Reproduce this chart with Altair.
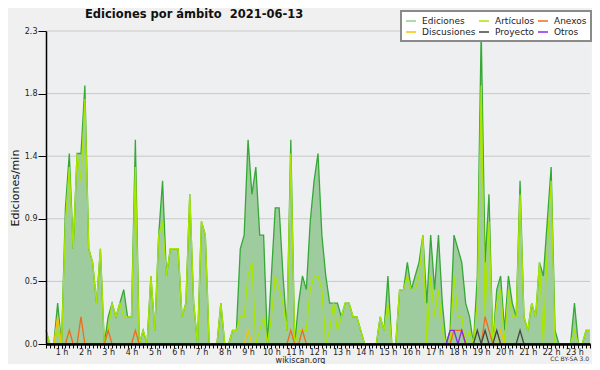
import altair as alt
import pandas as pd

# 10-minute buckets, first bucket at 0:20, last at 23:40 (edits per minute)
ediciones = [
    0.1, 0, 0, 0.3, 0, 1.0,
    1.4, 0.7, 1.4, 1.4, 1.9, 0.7,
    0.6, 0.3, 0.7, 0, 0.2, 0.3,
    0.2, 0.3, 0.4, 0.2, 0.2, 1.5,
    0, 0.1, 0, 0.5, 0.1, 0.8,
    1.2, 0.5, 0.7, 0.7, 0.7, 0.2,
    0.3, 1.1, 0.3, 0, 0.9, 0.8,
    0, 0, 0, 0.3, 0, 0,
    0.1, 0.1, 0.7, 0.8, 1.5, 1.1,
    1.3, 0.8, 0.8, 0, 0.5, 1.0,
    1.0, 0.5, 0.1, 1.5, 0, 0.3,
    0.5, 0.4, 0.9, 1.2, 1.4, 0.8,
    0.5, 0.3, 0.3, 0.3, 0.2, 0.3,
    0.3, 0.2, 0.2, 0.1, 0, 0,
    0, 0, 0.2, 0.1, 0.5, 0,
    0, 0.4, 0.4, 0.6, 0.4, 0.5,
    0.6, 0.8, 0.3, 0.8, 0.4, 0.8,
    0.3, 0, 0.1, 0.8, 0.7, 0.6,
    0.3, 0.2, 0, 0.5, 2.3, 0.6,
    1.1, 0, 0.4, 0.5, 0.1, 0.5,
    0.3, 0.2, 1.2, 0.2, 0.1, 0.3,
    0.2, 0.6, 0.5, 0.9, 1.3, 0.1,
    0, 0, 0, 0, 0.3, 0,
    0, 0.1, 0.1,
]
articulos = [
    0.1, 0, 0, 0.1, 0, 0.9,
    1.3, 0.7, 1.4, 1.2, 1.8, 0.7,
    0.6, 0.3, 0.7, 0, 0.1, 0.3,
    0.2, 0.3, 0.2, 0.2, 0.2, 1.3,
    0, 0.1, 0, 0.5, 0.1, 0.8,
    0.9, 0.5, 0.7, 0.7, 0.7, 0.2,
    0.3, 1.1, 0.3, 0, 0.9, 0.8,
    0, 0, 0, 0.3, 0, 0,
    0.1, 0.1, 0.2, 0.2, 0.5, 0.6,
    0, 0.1, 0.2, 0, 0.2, 0.5,
    0.4, 0.3, 0.1, 1.4, 0, 0.1,
    0.1, 0.1, 0.4, 0.5, 0.5, 0.4,
    0, 0.1, 0.3, 0.1, 0.2, 0.3,
    0.3, 0.2, 0.2, 0.1, 0, 0,
    0, 0, 0.2, 0.1, 0.3, 0,
    0, 0.4, 0.4, 0.5, 0.4, 0.4,
    0.5, 0.8, 0, 0.5, 0.2, 0.4,
    0.1, 0, 0, 0.5, 0.2, 0.2,
    0, 0.1, 0, 0.3, 1.9, 0.2,
    0.9, 0, 0.3, 0.4, 0, 0.4,
    0.2, 0.2, 1.1, 0.2, 0.1, 0.3,
    0.2, 0.6, 0, 0.7, 1.2, 0,
    0, 0, 0, 0, 0.1, 0,
    0, 0.1, 0.1,
]
# sparse series: bucket index -> value
anexos = {6: 0.1, 9: 0.2, 16: 0.1, 23: 0.1, 63: 0.1, 66: 0.1,
          105: 0.1, 106: 0.1, 107: 0.1, 113: 0.2, 114: 0.1}
discusiones = {3: 0.2, 52: 0.1, 117: 0.1}
proyecto = {111: 0.1, 113: 0.1, 116: 0.1, 122: 0.1}
otros = {104: 0.1, 105: 0.1, 107: 0.1}

series_names = ["Ediciones", "Artículos", "Anexos", "Discusiones", "Proyecto", "Otros"]
series_colors = ["#8fcf8f", "#a8e600", "#f26a1b", "#f5c400", "#444444", "#8a2be2"]
hour_labels = list(range(1, 24))

n = len(ediciones)
hours = [(2 + i) / 6 for i in range(n)]

def dense(d):
    return [d.get(i, 0) for i in range(n)]

df_ed = pd.DataFrame({"hora": hours, "valor": ediciones})
rows = []
for name, vals in [("Artículos", articulos), ("Discusiones", dense(discusiones)),
                   ("Anexos", dense(anexos)), ("Proyecto", dense(proyecto)),
                   ("Otros", dense(otros))]:
    for h, v in zip(hours, vals):
        rows.append({"hora": h, "valor": v, "serie": name})
df_s = pd.DataFrame(rows)

y_ticks = [round(k * 0.115, 3) for k in range(21)]
grid_vals = pd.DataFrame({"g": [0.46, 0.92, 1.38, 1.84, 2.3]})

xscale = alt.Scale(domain=[hours[0], hours[-1]], nice=False, zero=False)
yscale = alt.Scale(domain=[0, 2.3], nice=False)

# labelled hour axis
x_axis_major = alt.Axis(
    values=hour_labels, orient="bottom",
    labelExpr="datum.value + ' h'",
    tickSize=4, tickColor="#000", domainColor="#000", domainWidth=2,
    labelFont="DejaVu Sans", labelFontSize=8, labelColor="#222", labelPadding=0,
    labelOverlap=False, labelFlush=False, grid=False, zindex=1,
    title="wikiscan.org", titleFont="DejaVu Sans", titleFontSize=8,
    titleFontWeight="normal", titleColor="#222", titleX=254, titleY=12,
    titleBaseline="top", titleAlign="center",
)
# 10-minute minor ticks
x_axis_minor = alt.Axis(
    values=hours, orient="bottom", labels=False, title=None,
    tickSize=4, tickColor="#000", domainColor="#000", domainWidth=2,
    grid=False, zindex=1,
)
y_axis = alt.Axis(
    values=y_ticks,
    labelExpr="(round(datum.value / 0.115) % 4 == 0) ? format(datum.value, '.1f') : ''",
    tickSize={"condition": {"test": "round(datum.value / 0.115) % 4 == 0", "value": 8}, "value": 4},
    tickColor="#000", domainColor="#000", domainWidth=1.5,
    labelFont="DejaVu Sans", labelFontSize=8, labelColor="#222", labelPadding=1,
    labelOverlap=False, grid=False, zindex=1,
    title="Ediciones/min", titleFont="DejaVu Sans", titleFontSize=11,
    titleFontWeight="normal", titleColor="#111", titleX=-26,
)

grid = alt.Chart(grid_vals).mark_rule(color="#c9c9c9", strokeWidth=1).encode(
    y=alt.Y("g:Q", scale=yscale, axis=y_axis)
)

area = alt.Chart(df_ed).mark_area(color="#9fcc9f", opacity=1).encode(
    x=alt.X("hora:Q", scale=xscale, axis=x_axis_major),
    y=alt.Y("valor:Q", scale=yscale),
)
ed_line = alt.Chart(df_ed).mark_line(color="#35a835", strokeWidth=1.3).encode(
    x=alt.X("hora:Q", scale=xscale, axis=x_axis_minor),
    y=alt.Y("valor:Q", scale=yscale),
)
lines = alt.Chart(df_s).mark_line(strokeWidth=1.3).encode(
    x=alt.X("hora:Q", scale=xscale, axis=None),
    y=alt.Y("valor:Q", scale=yscale),
    color=alt.Color(
        "serie:N",
        scale=alt.Scale(domain=series_names, range=series_colors),
        sort=series_names,
        legend=alt.Legend(
            title=None, orient="none", legendX=355, legendY=-20, columns=3,
            direction="horizontal", gridAlign="each",
            symbolType="stroke", symbolSize=100, symbolStrokeWidth=1.5,
            labelFont="DejaVu Sans", labelFontSize=9, labelColor="#222",
            padding=4, rowPadding=0, columnPadding=0, labelOffset=5,
            fillColor="#ffffff", strokeColor="#8a8a8a",
        ),
    ),
    detail="serie:N",
)
cc = alt.Chart(pd.DataFrame({"t": ["CC BY-SA 3.0"]})).mark_text(
    font="DejaVu Sans", fontSize=6, align="right", baseline="bottom", color="#333"
).encode(text="t:N", x=alt.value(543), y=alt.value(331))

chart = alt.layer(grid, area, ed_line, lines, cc).resolve_axis(x="independent").properties(
    width=544, height=313,
    autosize=alt.AutoSizeParams(type="none"),
    padding={"left": 38, "top": 23, "right": 2, "bottom": 20},
    background="#f0f0f0",
    title=alt.TitleParams(
        "Ediciones por ámbito\u00a0 2021-06-13", anchor="start", frame="group",
        dx=39, dy=16, offset=6,
        font="DejaVu Sans", fontSize=11.5, fontWeight="bold", color="#111",
    ),
).configure_view(fill="#edeff1", stroke=None).configure_legend(strokeWidth=2)

chart.save("out.html", embed_options={"renderer": "svg", "actions": False})
